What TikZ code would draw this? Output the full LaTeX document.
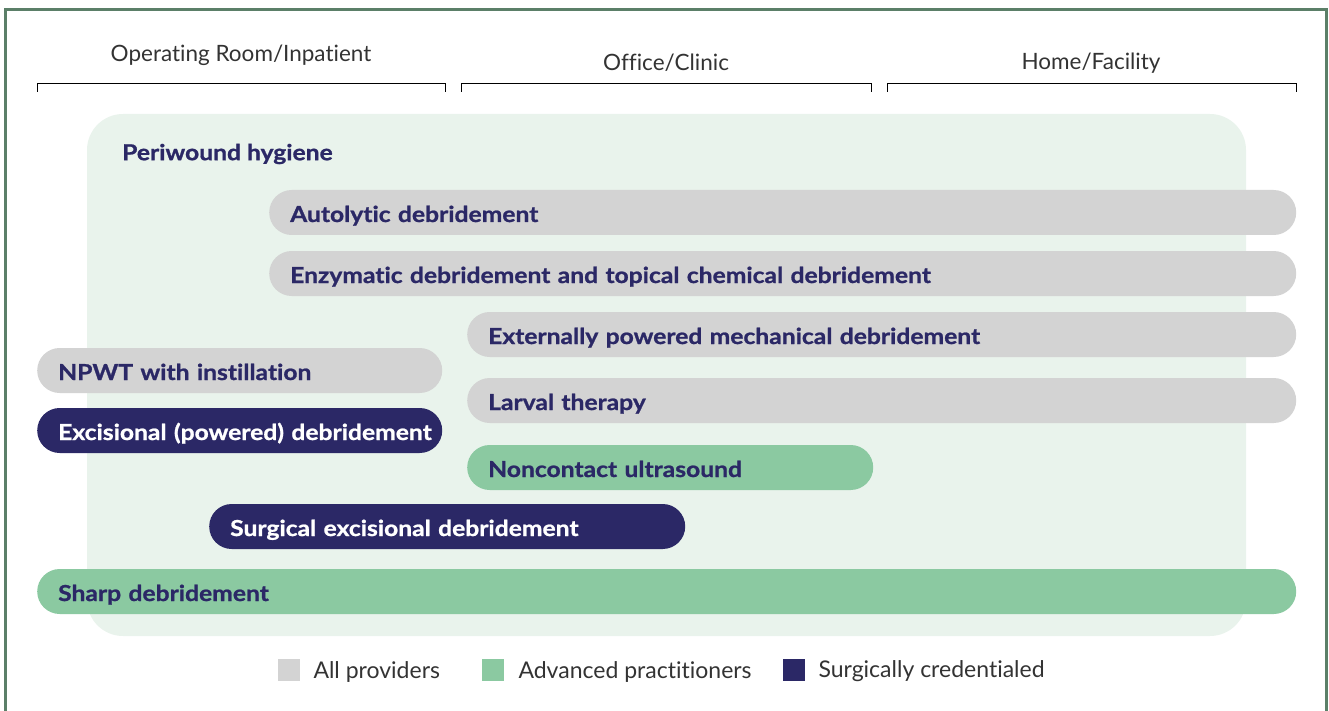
\documentclass[tikz,border=0pt]{standalone}
\usepackage{fontspec}
\setmainfont{Lato}[Ligatures=NoCommon]
\newfontfamily\barfont{Lato}[Ligatures=NoCommon,FakeStretch=1.12,BoldFeatures={FakeBold=1}]
\definecolor{frame}{HTML}{5B7F68}
\definecolor{panel}{HTML}{E9F3EC}
\definecolor{allprov}{HTML}{D3D3D3}
\definecolor{advprac}{HTML}{8BC9A1}
\definecolor{surgcred}{HTML}{2B2866}
\definecolor{labeltext}{HTML}{333333}
\tikzset{
  barfontstyle/.style={font=\barfont\fontsize{22}{26}\selectfont\bfseries},
  bar/.style={anchor=west, rectangle, rounded corners=22.5pt, minimum height=45pt,
    inner xsep=21pt, inner ysep=0pt, align=left, text height=19pt, text depth=0pt,
    text=surgcred, barfontstyle},
  allbar/.style={bar, fill=allprov},
  advbar/.style={bar, fill=advprac},
  surgbar/.style={bar, fill=surgcred, text=white},
  header/.style={text=labeltext, font=\fontsize{22.5}{26}\selectfont},
  legtext/.style={anchor=west, text=labeltext, font=\fontsize{23}{26}\selectfont},
  legbox/.style={minimum size=22pt, inner sep=0pt},
  bracketline/.style={draw=black, line width=1pt},
}
\begin{document}
\begin{tikzpicture}[x=1pt,y=-1pt]
\useasboundingbox (0,0) rectangle (1329,711);
% outer frame, open at the bottom
\draw[frame, line width=3pt] (5,720) -- (5,9.5) -- (1326,9.5) -- (1326,720);
% light panel behind the bars
\fill[panel, rounded corners=36pt] (87,114) rectangle (1246,636);

% setting headers and their brackets
\node[header] (hOR) at (241,55.5) {Operating Room/Inpatient};
\node[header] (hOC) at (666,63) {Office/Clinic};
\node[header] (hHF) at (1091,63) {Home/Facility};
\draw[bracketline] (37,92) -- (37,83.5) -- (445,83.5) -- (445,92);
\draw[bracketline] (461,92) -- (461,83.5) -- (871,83.5) -- (871,92);
\draw[bracketline] (887,92) -- (887,83.5) -- (1296,83.5) -- (1296,92);

% periwound hygiene has no bar
\node[anchor=west, text=surgcred, barfontstyle, inner sep=0pt] (peri) at (122,154) {Periwound hygiene};

% bars
\node[allbar, text width=985pt] (auto) at (269,212.5) {\mbox{Autolytic debridement}};
\node[allbar, text width=985pt] (enz) at (269,273.5) {\mbox{Enzymatic debridement and topical chemical debridement}};
\node[allbar, text width=787pt] (ext) at (467,334.5) {\mbox{Externally powered mechanical debridement}};
\node[allbar, text width=363pt] (npwt) at (37,370.5) {\mbox{NPWT with instillation}};
\node[allbar, text width=787pt] (larv) at (467,400.5) {\mbox{Larval therapy}};
\node[surgbar, text width=363pt] (exc) at (37,430.5) {\mbox{Excisional (powered) debridement}};
\node[advbar, text width=364pt] (ncu) at (467,467.5) {\mbox{Noncontact ultrasound}};
\node[surgbar, text width=434pt] (surg) at (209,526.5) {\mbox{Surgical excisional debridement}};
\node[advbar, text width=1217pt] (sharp) at (37,591.5) {\mbox{Sharp debridement}};

% legend
\node[legbox, fill=allprov] (lg1) at (289,670) {};
\node[legtext] (lt1) at (310,671.5) {All providers};
\node[legbox, fill=advprac] (lg2) at (493,670) {};
\node[legtext] (lt2) at (515,671.5) {Advanced practitioners};
\node[legbox, fill=surgcred] (lg3) at (794,670) {};
\node[legtext] (lt3) at (815,671.5) {Surgically credentialed};
\end{tikzpicture}
\end{document}
